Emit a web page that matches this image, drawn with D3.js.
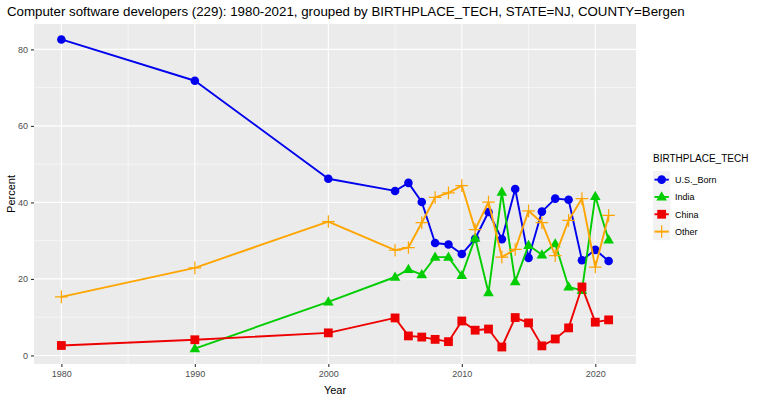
<!DOCTYPE html>
<html>
<head>
<meta charset="utf-8">
<script src="https://cdn.jsdelivr.net/npm/d3@7"></script>
<style>
  body { margin: 0; background: #fff; }
  text { font-family: "Liberation Sans", Arial, sans-serif; }
</style>
</head>
<body>
<div id="chart"></div>
<script>
// Data
const years = [1980, 1990, 2000, 2005, 2006, 2007, 2008, 2009, 2010, 2011, 2012, 2013, 2014, 2015, 2016, 2017, 2018, 2019, 2020, 2021];
const usBorn = [82.6, 71.8, 46.2, 43.0, 45.1, 40.1, 29.4, 29.0, 26.5, 30.5, 37.5, 30.4, 43.5, 25.5, 37.6, 41.0, 40.7, 24.9, 27.6, 24.7];
const india  = [null, 1.8, 14.0, 20.5, 22.5, 21.1, 25.7, 25.7, 20.9, 30.7, 16.4, 42.7, 19.3, 28.8, 26.3, 29.2, 17.9, 17.0, 41.6, 30.2];
const china  = [2.6, 4.1, 5.9, 9.8, 5.1, 4.8, 4.2, 3.6, 9.0, 6.6, 6.9, 2.2, 9.9, 8.5, 2.5, 4.3, 7.2, 17.9, 8.7, 9.3];
const other  = [15.3, 22.9, 35.0, 27.5, 28.2, 34.7, 41.3, 42.5, 44.4, 32.9, 40.1, 25.7, 27.7, 37.8, 34.7, 26.1, 35.3, 41.0, 23.1, 36.6];

const seriesNames = ['U.S._Born', 'India', 'China', 'Other'];
const seriesValues = [usBorn, india, china, other];
const seriesColors = ['#0000EE', '#00CD00', '#EE0000', '#FFA500'];
const seriesShapes = ['circle', 'triangle', 'square', 'plus'];

const xTicks = [1980, 1990, 2000, 2010, 2020];
const yTicks = [0, 20, 40, 60, 80];

const W = 758, H = 400;
const panel = { left: 34, right: 636, top: 24, bottom: 364 };

const svg = d3.select('#chart').append('svg')
  .attr('width', W).attr('height', H);

// ggplot-style 5% expansion
const xMin = d3.min(years), xMax = d3.max(years);
const xPad = (xMax - xMin) * 0.05;
const x = d3.scaleLinear().domain([xMin - xPad, xMax + xPad]).range([panel.left, panel.right]);

const allVals = seriesValues.flat().filter(v => v != null);
const yMin = d3.min(allVals), yMax = d3.max(allVals);
const yPad = (yMax - yMin) * 0.05;
const y = d3.scaleLinear().domain([yMin - yPad, yMax + yPad]).range([panel.bottom, panel.top]);

// panel background
svg.append('rect')
  .attr('x', panel.left).attr('y', panel.top)
  .attr('width', panel.right - panel.left).attr('height', panel.bottom - panel.top)
  .attr('fill', '#EBEBEB');

const grid = svg.append('g');
// minor grid (halfway between major ticks)
const xMinor = xTicks.slice(0, -1).map(t => t + 5);
xMinor.forEach(t => {
  grid.append('line').attr('x1', x(t)).attr('x2', x(t)).attr('y1', panel.top).attr('y2', panel.bottom)
    .attr('stroke', '#fff').attr('stroke-width', 0.55);
});
const yMinor = yTicks.map(t => t + 10).filter(t => t < y.domain()[1]);
yMinor.forEach(t => {
  grid.append('line').attr('x1', panel.left).attr('x2', panel.right).attr('y1', y(t)).attr('y2', y(t))
    .attr('stroke', '#fff').attr('stroke-width', 0.55);
});
// major grid
xTicks.forEach(t => {
  grid.append('line').attr('x1', x(t)).attr('x2', x(t)).attr('y1', panel.top).attr('y2', panel.bottom)
    .attr('stroke', '#fff').attr('stroke-width', 1.1);
});
yTicks.forEach(t => {
  grid.append('line').attr('x1', panel.left).attr('x2', panel.right).attr('y1', y(t)).attr('y2', y(t))
    .attr('stroke', '#fff').attr('stroke-width', 1.1);
});

// axes
const xAxis = svg.append('g')
  .attr('transform', `translate(0,${panel.bottom})`)
  .call(d3.axisBottom(x).tickValues(xTicks).tickFormat(d3.format('d')).tickSize(3).tickPadding(4));
const yAxis = svg.append('g')
  .attr('transform', `translate(${panel.left},0)`)
  .call(d3.axisLeft(y).tickValues(yTicks).tickSize(3).tickPadding(3));
[xAxis, yAxis].forEach(a => {
  a.select('.domain').remove();
  a.selectAll('.tick line').attr('stroke', '#333333').attr('stroke-width', 1.1);
  a.selectAll('.tick text').attr('fill', '#4D4D4D').style('font-size', '9px')
    .style('font-family', '"Liberation Sans", Arial, sans-serif');
});

// axis titles
svg.append('text').attr('x', (panel.left + panel.right) / 2).attr('y', 394)
  .attr('text-anchor', 'middle').style('font-size', '11px').attr('fill', '#000').text('Year');
svg.append('text').attr('transform', `translate(15,${(panel.top + panel.bottom) / 2}) rotate(-90)`)
  .attr('text-anchor', 'middle').style('font-size', '11px').attr('fill', '#000').text('Percent');

// title
svg.append('text').attr('x', 7).attr('y', 16)
  .style('font-size', '13.3px').attr('fill', '#000')
  .text('Computer software developers (229): 1980-2021, grouped by BIRTHPLACE_TECH, STATE=NJ, COUNTY=Bergen');

function drawShape(g, shape, cx, cy, color) {
  if (shape === 'circle') {
    g.append('circle').attr('cx', cx).attr('cy', cy).attr('r', 4.3).attr('fill', color);
  } else if (shape === 'square') {
    g.append('rect').attr('x', cx - 4.4).attr('y', cy - 4.4).attr('width', 8.8).attr('height', 8.8).attr('fill', color);
  } else if (shape === 'triangle') {
    const s = 5.6;
    g.append('path').attr('d', `M${cx},${cy - s}L${cx + s * 0.95},${cy + s * 0.65}L${cx - s * 0.95},${cy + s * 0.65}Z`).attr('fill', color);
  } else if (shape === 'plus') {
    const s = 6.3;
    g.append('path').attr('d', `M${cx - s},${cy}H${cx + s}M${cx},${cy - s}V${cy + s}`)
      .attr('stroke', color).attr('stroke-width', 1.2).attr('fill', 'none');
  }
}

const line = d3.line()
  .defined(d => d.v != null)
  .x(d => x(d.year))
  .y(d => y(d.v));

const plot = svg.append('g');
seriesNames.forEach((name, i) => {
  const pts = years.map((yr, j) => ({ year: yr, v: seriesValues[i][j] }));
  const g = plot.append('g');
  g.append('path').datum(pts).attr('d', line)
    .attr('fill', 'none').attr('stroke', seriesColors[i]).attr('stroke-width', 1.9)
    .attr('stroke-linejoin', 'round');
  pts.filter(d => d.v != null).forEach(d => drawShape(g, seriesShapes[i], x(d.year), y(d.v), seriesColors[i]));
});

// legend
const legend = svg.append('g').attr('transform', 'translate(653,150)');
legend.append('text').attr('x', 0).attr('y', 12).style('font-size', '10px').attr('fill', '#000').text('BIRTHPLACE_TECH');
seriesNames.forEach((name, i) => {
  const ky = 21 + i * 17.3;
  const item = legend.append('g').attr('transform', `translate(0,${ky})`);
  item.append('rect').attr('width', 17.3).attr('height', 17.3).attr('fill', '#F2F2F2');
  item.append('line').attr('x1', 1.5).attr('x2', 15.8).attr('y1', 8.65).attr('y2', 8.65)
    .attr('stroke', seriesColors[i]).attr('stroke-width', 1.9);
  drawShape(item, seriesShapes[i], 8.65, 8.65, seriesColors[i]);
  item.append('text').attr('x', 22).attr('y', 12).style('font-size', '9px').attr('fill', '#000').text(name);
});
</script>
</body>
</html>
